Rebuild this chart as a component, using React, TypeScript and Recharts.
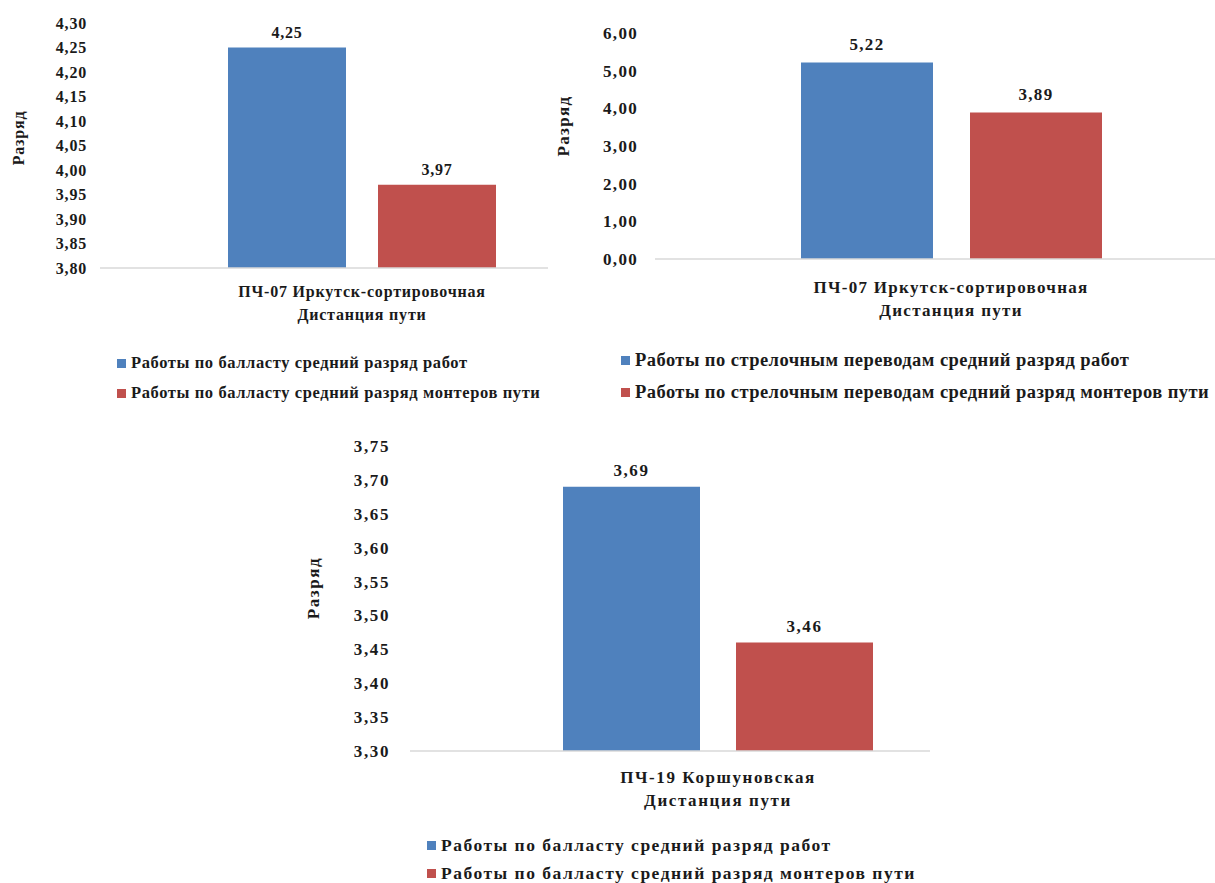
import { BarChart, Bar, XAxis, YAxis, Legend, LabelList } from 'recharts';

const FONT = '"Liberation Serif", "Times New Roman", serif';
const INK = '#1a1a1a';
const BLUE = '#4F81BD';
const RED = '#C0504D';
const AXIS_GREY = '#D9D9D9';

// Ballast works, ПЧ-07
const BALLAST_07_CATEGORIES = ['ПЧ-07 Иркутск-сортировочная'];
const BALLAST_07_WORK = [4.25];
const BALLAST_07_CREW = [3.97];
const BALLAST_07_TICKS = [3.8, 3.85, 3.9, 3.95, 4.0, 4.05, 4.1, 4.15, 4.2, 4.25, 4.3];

// Switch works, ПЧ-07
const SWITCH_07_CATEGORIES = ['ПЧ-07 Иркутск-сортировочная'];
const SWITCH_07_WORK = [5.22];
const SWITCH_07_CREW = [3.89];
const SWITCH_07_TICKS = [0, 1, 2, 3, 4, 5, 6];

// Ballast works, ПЧ-19
const BALLAST_19_CATEGORIES = ['ПЧ-19 Коршуновская'];
const BALLAST_19_WORK = [3.69];
const BALLAST_19_CREW = [3.46];
const BALLAST_19_TICKS = [3.3, 3.35, 3.4, 3.45, 3.5, 3.55, 3.6, 3.65, 3.7, 3.75];

const BALLAST_NAMES = [
  'Работы по балласту средний разряд работ',
  'Работы по балласту средний разряд монтеров пути',
];
const SWITCH_NAMES = [
  'Работы по стрелочным переводам средний разряд работ',
  'Работы по стрелочным переводам средний разряд монтеров пути',
];

const Y_TITLE = 'Разряд';
const X_TITLE = 'Дистанция пути';

const fmt = (v: number) => v.toFixed(2).replace('.', ',');

type Frame = {
  left: number; top: number; clipW: number; clipH: number;
  width: number; height: number;
  plotLeft: number; plotTop: number; axisY: number;
  tickGap: number; barSize: number; barGap: number;
  catDy: number; titleDy: number; labelOffset: number;
  legendX: number; legendY: number; rowH: number;
  fontSize: number; ls: number; legendFont: number; legendLs: number;
  yTitleX: number; yTitleY: number;
};

type Props = {
  categories: string[];
  work: number[];
  crew: number[];
  names: string[];
  ticks: number[];
  f: Frame;
};

function RankChart({ categories, work, crew, names, ticks, f }: Props) {
  const data = categories.map((c, i) => ({ name: c, work: work[i], crew: crew[i] }));
  const yAxisW = 70;
  const xAxisH = f.titleDy + 14;
  const textStyle = {
    fontFamily: FONT,
    fontWeight: 700,
    fontSize: f.fontSize,
    letterSpacing: f.ls,
    fill: INK,
  };

  return (
    <div
      style={{
        position: 'absolute',
        left: f.left,
        top: f.top,
        width: f.clipW,
        height: f.clipH,
        overflow: 'hidden',
      }}
    >
      <BarChart
        width={f.width}
        height={f.height}
        data={data}
        barSize={f.barSize}
        barGap={f.barGap}
        margin={{
          top: f.plotTop,
          right: 0,
          left: f.plotLeft - yAxisW,
          bottom: f.height - f.axisY - xAxisH,
        }}
      >
        <XAxis
          dataKey="name"
          height={xAxisH}
          axisLine={{ stroke: AXIS_GREY, strokeWidth: 1.5 }}
          tickLine={false}
          tickSize={0}
          tick={(p: any) => (
            <text x={p.x} y={p.y + f.catDy} dy="0.33em" textAnchor="middle" style={textStyle}>
              {p.payload.value}
            </text>
          )}
          label={(p: any) => {
            const vb = p.viewBox;
            return (
              <text
                x={vb.x + vb.width / 2}
                y={vb.y + f.titleDy}
                dy="0.33em"
                textAnchor="middle"
                style={textStyle}
              >
                {X_TITLE}
              </text>
            );
          }}
        />
        <YAxis
          width={yAxisW}
          domain={[ticks[0], ticks[ticks.length - 1]]}
          ticks={ticks}
          interval={0}
          axisLine={false}
          tickLine={false}
          tickSize={0}
          tickMargin={f.tickGap}
          tickFormatter={fmt}
          tick={{ style: textStyle }}
          label={() => (
            <text
              x={f.yTitleX}
              y={f.yTitleY}
              dy="0.33em"
              textAnchor="middle"
              transform={`rotate(-90, ${f.yTitleX}, ${f.yTitleY})`}
              style={textStyle}
            >
              {Y_TITLE}
            </text>
          )}
        />
        <Legend
          layout="horizontal"
          verticalAlign="middle"
          align="center"
          wrapperStyle={{ left: f.legendX, top: f.legendY, width: 760 }}
          content={(p: any) => {
            const items = [...(p.payload || [])].sort(
              (a: any, b: any) => names.indexOf(a.value) - names.indexOf(b.value),
            );
            return (
              <div>
                {items.map((item: any) => (
                  <div
                    key={item.value}
                    style={{
                      display: 'flex',
                      alignItems: 'center',
                      height: f.rowH,
                      fontFamily: FONT,
                      fontWeight: 700,
                      fontSize: f.legendFont,
                      letterSpacing: f.legendLs,
                      color: INK,
                      whiteSpace: 'nowrap',
                    }}
                  >
                    <span
                      style={{
                        width: 9,
                        height: 9,
                        background: item.color,
                        marginRight: 5,
                        flex: 'none',
                      }}
                    />
                    {item.value}
                  </div>
                ))}
              </div>
            );
          }}
        />
        <Bar dataKey="work" name={names[0]} fill={BLUE} isAnimationActive={false}>
          <LabelList
            dataKey="work"
            position="top"
            offset={f.labelOffset}
            formatter={(v: any) => fmt(Number(v))}
            style={textStyle}
          />
        </Bar>
        <Bar dataKey="crew" name={names[1]} fill={RED} isAnimationActive={false}>
          <LabelList
            dataKey="crew"
            position="top"
            offset={f.labelOffset}
            formatter={(v: any) => fmt(Number(v))}
            style={textStyle}
          />
        </Bar>
      </BarChart>
    </div>
  );
}

const FRAME_1: Frame = {
  left: 0, top: 0, clipW: 548, clipH: 415,
  width: 624, height: 415,
  plotLeft: 100, plotTop: 23, axisY: 268,
  tickGap: 13, barSize: 118, barGap: 32,
  catDy: 22, titleDy: 47, labelOffset: 10,
  legendX: 117, legendY: 348, rowH: 30,
  fontSize: 16, ls: 0.8, legendFont: 16.5, legendLs: 0.6,
  yTitleX: 19, yTitleY: 138,
};

const FRAME_2: Frame = {
  left: 540, top: 0, clipW: 675, clipH: 415,
  width: 707, height: 415,
  plotLeft: 115, plotTop: 33, axisY: 259,
  tickGap: 17, barSize: 132, barGap: 37,
  catDy: 26, titleDy: 51, labelOffset: 12,
  legendX: 81, legendY: 344, rowH: 32,
  fontSize: 17, ls: 1.3, legendFont: 18.5, legendLs: 0.45,
  yTitleX: 23, yTitleY: 126,
};

const FRAME_3: Frame = {
  left: 290, top: 420, clipW: 640, clipH: 463,
  width: 736, height: 463,
  plotLeft: 120, plotTop: 26, axisY: 331,
  tickGap: 20, barSize: 137, barGap: 36,
  catDy: 24, titleDy: 49, labelOffset: 11,
  legendX: 137, legendY: 411, rowH: 28,
  fontSize: 17, ls: 1.6, legendFont: 17.5, legendLs: 1.5,
  yTitleX: 23, yTitleY: 168,
};

export default function App() {
  return (
    <div
      style={{
        position: 'absolute',
        left: 0,
        top: 0,
        width: 1215,
        height: 883,
        background: '#ffffff',
        overflow: 'hidden',
      }}
    >
      <RankChart
        categories={BALLAST_07_CATEGORIES}
        work={BALLAST_07_WORK}
        crew={BALLAST_07_CREW}
        names={BALLAST_NAMES}
        ticks={BALLAST_07_TICKS}
        f={FRAME_1}
      />
      <RankChart
        categories={SWITCH_07_CATEGORIES}
        work={SWITCH_07_WORK}
        crew={SWITCH_07_CREW}
        names={SWITCH_NAMES}
        ticks={SWITCH_07_TICKS}
        f={FRAME_2}
      />
      <RankChart
        categories={BALLAST_19_CATEGORIES}
        work={BALLAST_19_WORK}
        crew={BALLAST_19_CREW}
        names={BALLAST_NAMES}
        ticks={BALLAST_19_TICKS}
        f={FRAME_3}
      />
    </div>
  );
}
